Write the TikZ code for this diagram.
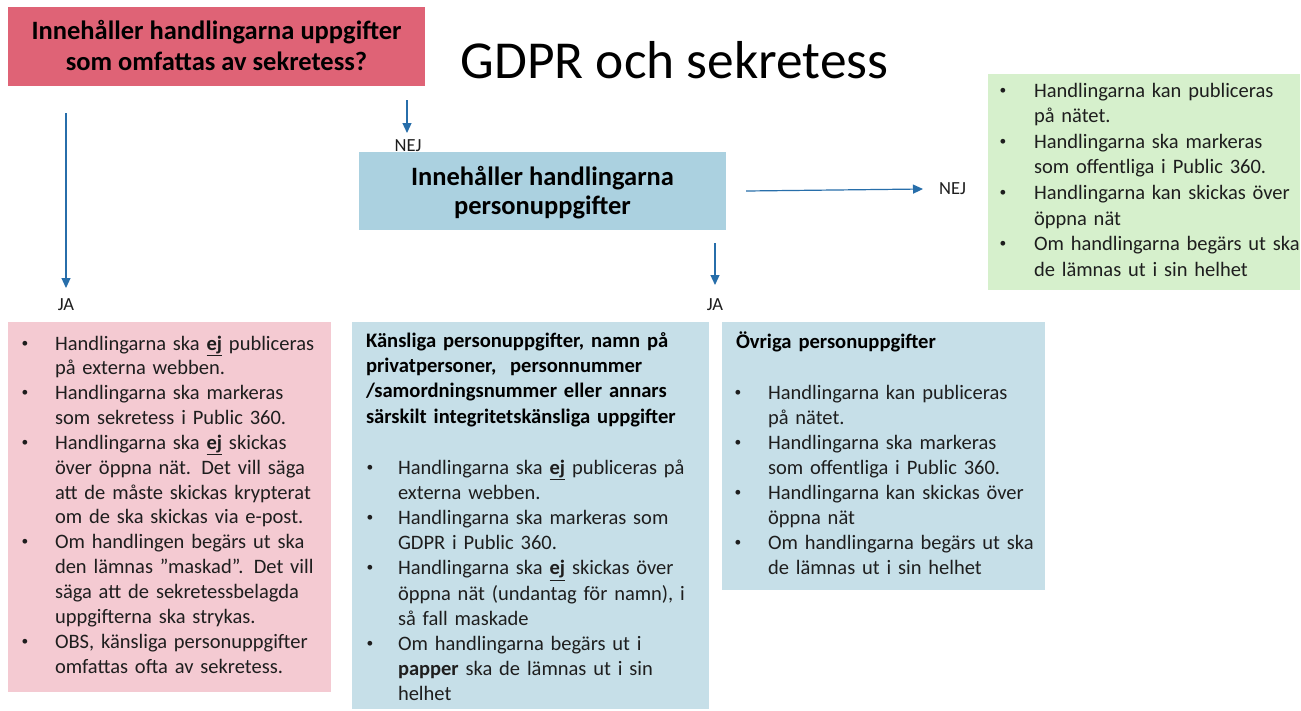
\documentclass[tikz,border=0pt]{standalone}
\usepackage{fontspec}
\setmainfont{Carlito}
\usetikzlibrary{arrows.meta}
\setlength{\parskip}{0pt}
\setlength{\parindent}{0pt}
\definecolor{qred}{RGB}{223,99,118}
\definecolor{qblue}{RGB}{171,209,224}
\definecolor{lred}{RGB}{244,202,210}
\definecolor{lblue}{RGB}{198,223,232}
\definecolor{lgreen}{RGB}{214,240,204}
\definecolor{arrowblue}{RGB}{39,110,170}
\definecolor{ink}{RGB}{30,30,30}
\newcommand{\nl}{\unskip\nobreak\hfil\break}
\newcommand{\bitem}[2][32pt]{\hangindent=#1\hangafter=1\noindent\makebox[#1][l]{\raisebox{3pt}{\fontsize{13.5}{14}\selectfont•}}#2\par}
\newcommand{\ej}{\textbf{\underline{ej}}}
\begin{document}
\begin{tikzpicture}[x=1pt,y=-1pt,
  panel/.style={draw=none, inner sep=0pt, outer sep=0pt, anchor=north west},
  listtxt/.style={inner sep=0pt, outer sep=0pt, anchor=base west, text width=#1, text=ink},
  question/.style={inner sep=0pt, outer sep=0pt, anchor=base, align=center, text=black},
  answer/.style={inner sep=0pt, outer sep=0pt, anchor=base, text=ink, font=\fontsize{18.5}{20}\selectfont},
  flow/.style={draw=arrowblue, line width=1.2pt, -{Triangle[length=10pt,width=9pt]}}
]
\useasboundingbox (0,0) rectangle (1301,710);
\fill[white] (0,0) rectangle (1301,710);

% panels
\node[panel, fill=qred, minimum width=417pt, minimum height=79pt] (q1) at (8,7) {};
\node[panel, fill=qblue, minimum width=367pt, minimum height=78pt] (q2) at (359,152) {};
\node[panel, fill=lgreen, minimum width=312pt, minimum height=216pt] (green) at (988,74) {};
\node[panel, fill=lred, minimum width=323pt, minimum height=370pt] (red) at (8,322) {};
\node[panel, fill=lblue, minimum width=357pt, minimum height=387pt] (blue1) at (352,322) {};
\node[panel, fill=lblue, minimum width=323pt, minimum height=268pt] (blue2) at (722,322) {};

% questions (base = last line)
\node[question, font=\fontsize{26.5}{30.7}\selectfont\bfseries] (q1t) at (216.5,70) {Innehåller handlingarna uppgifter\\som omfattas av sekretess?};
\node[question, font=\fontsize{26.5}{29}\selectfont\bfseries] (q2t) at (542.5,214) {Innehåller handlingarna\\personuppgifter};

% title
\node[inner sep=0pt, anchor=base, font=\fontsize{53.4}{60}\selectfont, text=black] (title) at (674.5,78) {GDPR och sekretess};

% arrows
\coordinate (a1s) at (66,113);  \coordinate (a1e) at (66,288);
\coordinate (a2s) at (407,100); \coordinate (a2e) at (407,133);
\coordinate (a3s) at (746,191); \coordinate (a3e) at (923,189);
\coordinate (a4s) at (715,243); \coordinate (a4e) at (715,285);
\draw[flow] (a1s) -- (a1e);
\draw[flow] (a2s) -- (a2e);
\draw[flow] (a3s) -- (a3e);
\draw[flow] (a4s) -- (a4e);
\node[answer] (ja1) at (66,310.5) {JA};
\node[answer] (nej1) at (408,151) {NEJ};
\node[answer] (nej2) at (952.5,194.5) {NEJ};
\node[answer] (ja2) at (715,310.5) {JA};

% red list
\node[listtxt=420pt, font=\fontsize{20.5}{24.85}\selectfont] (redt) at (21.5,350) {%
\bitem[33.5pt]{Handlingarna ska \ej{} publiceras\nl på externa webben.}
\bitem[33.5pt]{Handlingarna ska markeras\nl som sekretess i Public 360.}
\bitem[33.5pt]{Handlingarna ska \ej{} skickas\nl över öppna nät. Det vill säga\nl att de måste skickas krypterat\nl om de ska skickas via e-post.}
\bitem[33.5pt]{Om handlingen begärs ut ska\nl den lämnas ”maskad”. Det vill\nl säga att de sekretessbelagda\nl uppgifterna ska strykas.}
\bitem[33.5pt]{OBS, känsliga personuppgifter\nl omfattas ofta av sekretess.}};

% blue 1
\node[listtxt=420pt, text=black, font=\fontsize{20.6}{25.3}\selectfont\bfseries] (b1h) at (366,347.3) {%
Känsliga personuppgifter, namn på\nl privatpersoner,\ \ personnummer\nl /samordningsnummer eller annars\nl särskilt integritetskänsliga uppgifter\par};
\node[listtxt=420pt, font=\fontsize{20.5}{25.1}\selectfont] (b1t) at (366.5,474.5) {%
\bitem[31.5pt]{Handlingarna ska \ej{} publiceras på\nl externa webben.}
\bitem[31.5pt]{Handlingarna ska markeras som\nl GDPR i Public 360.}
\bitem[31.5pt]{Handlingarna ska \ej{} skickas över\nl öppna nät (undantag för namn), i\nl så fall maskade}
\bitem[31.5pt]{Om handlingarna begärs ut i\nl \textbf{papper} ska de lämnas ut i sin\nl helhet}};

% blue 2
\node[listtxt=420pt, text=black, font=\fontsize{20.6}{25.3}\selectfont\bfseries] (b2h) at (736,348) {%
Övriga personuppgifter\par};
\node[listtxt=420pt, font=\fontsize{20.5}{25.1}\selectfont] (b2t) at (734.5,399) {%
\bitem[33.5pt]{Handlingarna kan publiceras\nl på nätet.}
\bitem[33.5pt]{Handlingarna ska markeras\nl som offentliga i Public 360.}
\bitem[33.5pt]{Handlingarna kan skickas över\nl öppna nät}
\bitem[33.5pt]{Om handlingarna begärs ut ska\nl de lämnas ut i sin helhet}};

% green
\node[listtxt=420pt, font=\fontsize{20.5}{25.6}\selectfont] (gt) at (999.5,97) {%
\bitem[34.5pt]{Handlingarna kan publiceras\nl på nätet.}
\bitem[34.5pt]{Handlingarna ska markeras\nl som offentliga i Public 360.}
\bitem[34.5pt]{Handlingarna kan skickas över\nl öppna nät}
\bitem[34.5pt]{Om handlingarna begärs ut ska\nl de lämnas ut i sin helhet}};
\end{tikzpicture}
\end{document}
